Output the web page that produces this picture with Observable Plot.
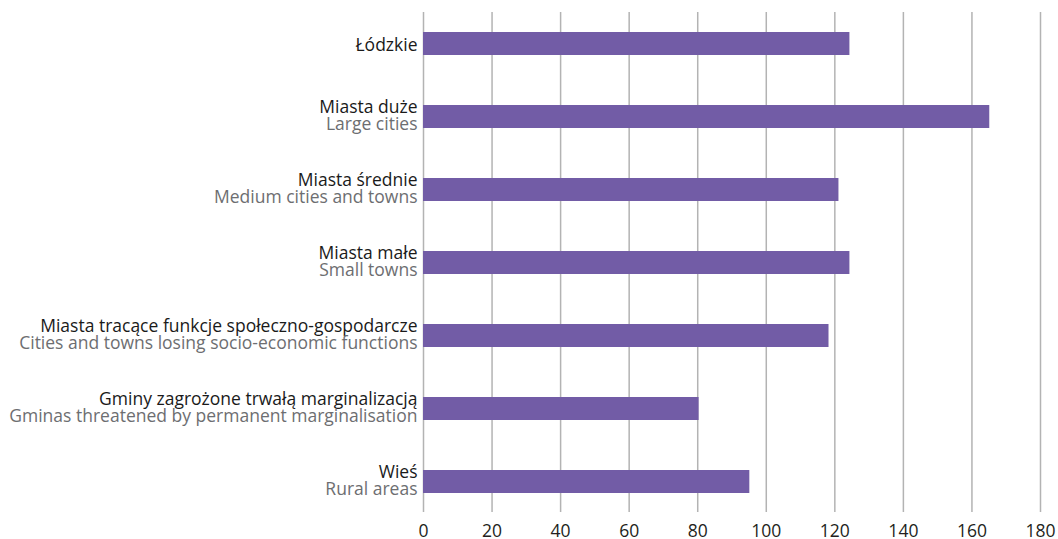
<!DOCTYPE html>
<html>
<head>
<meta charset="utf-8">
<script src="https://cdn.jsdelivr.net/npm/d3@7"></script>
<script src="https://cdn.jsdelivr.net/npm/@observablehq/plot@0.6"></script>
<style>
  html, body { margin: 0; padding: 0; background: #fff; }
  #chart svg { display: block; }
</style>
</head>
<body>
<div id="chart"></div>
<script>
const categoriesPL = [
  "Łódzkie",
  "Miasta duże",
  "Miasta średnie",
  "Miasta małe",
  "Miasta tracące funkcje społeczno-gospodarcze",
  "Gminy zagrożone trwałą marginalizacją",
  "Wieś"
];
const categoriesEN = [
  "",
  "Large cities",
  "Medium cities and towns",
  "Small towns",
  "Cities and towns losing socio-economic functions",
  "Gminas threatened by permanent marginalisation",
  "Rural areas"
];
const values = [124.4, 165.2, 121.2, 124.4, 118.3, 80.4, 95.2];
const xTicks = [0, 20, 40, 60, 80, 100, 120, 140, 160, 180];

const data = categoriesPL.map((pl, i) => ({pl, en: categoriesEN[i], value: values[i]}));
const single = data.filter(d => !d.en);
const double = data.filter(d => d.en);
const FONT = "'Open Sans', sans-serif";

const chart = Plot.plot({
  width: 1058,
  height: 539,
  marginLeft: 423,
  marginRight: 18,
  marginTop: 12,
  marginBottom: 27,
  style: {fontFamily: FONT, fontSize: "17px", background: "#fff"},
  x: {domain: [0, 180], ticks: xTicks, label: null},
  y: {domain: categoriesPL, paddingInner: 0.687, paddingOuter: 0.25, axis: null},
  marks: [
    Plot.ruleX(xTicks, {stroke: "#b3b3b3", strokeWidth: 1.5}),
    Plot.barX(data, {y: "pl", x: "value", fill: "#725ca6"}),
    Plot.axisX({ticks: xTicks, tickSize: 0, tickPadding: 12, fontSize: 17.5, fill: "#231f20", label: null}),
    Plot.text(single, {
      y: "pl", x: () => 0, text: "pl", textAnchor: "end", dx: -6,
      dy: 1, fill: "#1a1a1a", fontSize: 17.5
    }),
    Plot.text(double, {
      y: "pl", x: () => 0, text: "pl", textAnchor: "end", dx: -6,
      dy: -10, fill: "#1a1a1a", fontSize: 17.5
    }),
    Plot.text(double, {
      y: "pl", x: () => 0, text: "en", textAnchor: "end", dx: -6,
      dy: 7, fill: "#6d6e71", fontSize: 17.5
    })
  ]
});
document.getElementById("chart").appendChild(chart);
</script>
</body>
</html>
